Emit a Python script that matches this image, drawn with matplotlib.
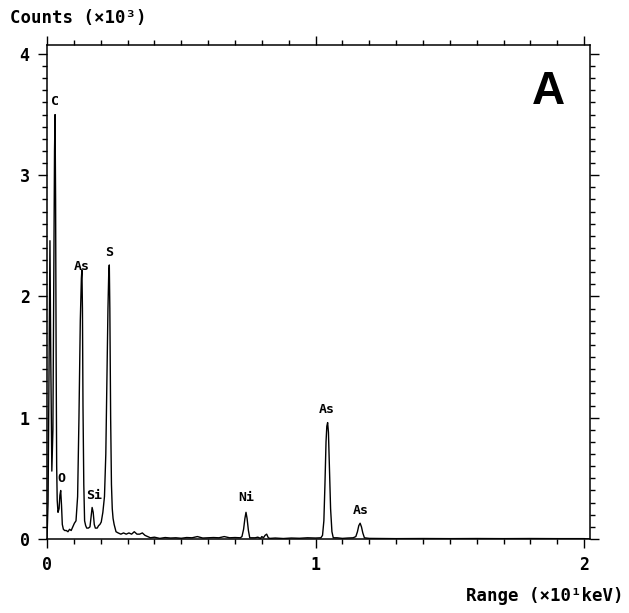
import matplotlib
matplotlib.use("Agg")
import matplotlib.pyplot as plt
from matplotlib.ticker import MultipleLocator

# Spectrum trace: energy (x10 keV) and counts (x10^3)
energy = [0.000, 0.004, 0.008, 0.011, 0.014, 0.018, 0.022, 0.025, 0.028, 0.030,
          0.032, 0.034, 0.036, 0.038, 0.041, 0.045, 0.048, 0.051, 0.054, 0.057,
          0.061, 0.066, 0.072, 0.078, 0.084, 0.090, 0.096, 0.102, 0.108, 0.114,
          0.119, 0.124, 0.128, 0.130, 0.132, 0.134, 0.137, 0.140, 0.144, 0.148,
          0.154, 0.160, 0.164, 0.168, 0.172, 0.176, 0.180, 0.187, 0.192, 0.197,
          0.202, 0.208, 0.214, 0.219, 0.223, 0.227, 0.230, 0.232, 0.234, 0.237,
          0.240, 0.243, 0.246, 0.250, 0.257, 0.265, 0.275, 0.285, 0.295, 0.305,
          0.315, 0.325, 0.335, 0.345, 0.355, 0.365, 0.375, 0.385, 0.40, 0.42,
          0.44, 0.46, 0.48, 0.50, 0.52, 0.54, 0.56, 0.58, 0.60, 0.62,
          0.64, 0.66, 0.68, 0.70, 0.72, 0.726, 0.732, 0.737, 0.741, 0.745,
          0.750, 0.755, 0.765, 0.775, 0.785, 0.795, 0.800, 0.806, 0.812, 0.818,
          0.824, 0.830, 0.85, 0.88, 0.91, 0.94, 0.97, 1.00, 1.02, 1.026,
          1.031, 1.035, 1.039, 1.042, 1.045, 1.048, 1.052, 1.056, 1.061, 1.066,
          1.08, 1.10, 1.12, 1.14, 1.150, 1.156, 1.161, 1.166, 1.171, 1.176,
          1.182, 1.20, 1.30, 1.40, 1.50, 1.60, 1.70, 1.80, 1.90, 2.00, 2.02]
counts = [0.00, 0.30, 1.50, 2.46, 1.50, 0.56, 0.90, 2.00, 3.20, 3.50,
          2.80, 1.50, 0.60, 0.32, 0.22, 0.25, 0.36, 0.40, 0.28, 0.12,
          0.08, 0.07, 0.07, 0.06, 0.08, 0.07, 0.10, 0.13, 0.15, 0.35,
          1.00, 1.80, 2.15, 2.22, 1.90, 1.10, 0.45, 0.15, 0.11, 0.09,
          0.09, 0.10, 0.18, 0.26, 0.22, 0.12, 0.09, 0.09, 0.11, 0.12,
          0.14, 0.22, 0.35, 0.70, 1.30, 1.90, 2.20, 2.26, 1.90, 1.00,
          0.45, 0.25, 0.17, 0.12, 0.06, 0.05, 0.04, 0.05, 0.04, 0.05,
          0.04, 0.06, 0.04, 0.04, 0.05, 0.03, 0.02, 0.01, 0.015, 0.005,
          0.012, 0.008, 0.010, 0.006, 0.012, 0.010, 0.020, 0.008, 0.010, 0.012,
          0.010, 0.020, 0.010, 0.012, 0.010, 0.02, 0.08, 0.17, 0.22, 0.17,
          0.07, 0.01, 0.01, 0.01, 0.015, 0.005, 0.02, 0.01, 0.03, 0.04,
          0.01, 0.005, 0.008, 0.004, 0.008, 0.006, 0.010, 0.008, 0.010, 0.03,
          0.15, 0.45, 0.80, 0.93, 0.96, 0.88, 0.55, 0.25, 0.06, 0.01,
          0.01, 0.005, 0.008, 0.010, 0.02, 0.06, 0.11, 0.13, 0.10, 0.05,
          0.01, 0.005, 0.003, 0.004, 0.003, 0.004, 0.003, 0.004, 0.003, 0.003, 0.0]

# Peak labels
peak_labels = ["C", "As", "S", "O", "Si", "Ni", "As", "As"]
label_x = [0.031, 0.130, 0.231, 0.053, 0.176, 0.741, 1.043, 1.169]
label_y = [3.61, 2.25, 2.36, 0.495, 0.355, 0.346, 1.064, 0.231]

x_ticks = [0, 1, 2]
y_ticks = [0, 1, 2, 3, 4]
y_label = "Counts (×10³)"
x_label = "Range (×10¹keV)"
panel = "A"

W, H = 629, 613
fig = plt.figure(figsize=(W / 100, H / 100), dpi=100)
ax = fig.add_axes([47 / W, 1 - 539 / H, 543 / W, 494 / H])

ax.plot(energy, counts, color="black", lw=1.0)
ax.set_xlim(0, 2.022)
ax.set_ylim(0, 4.074)

ax.xaxis.set_major_locator(MultipleLocator(1))
ax.xaxis.set_minor_locator(MultipleLocator(0.1))
ax.yaxis.set_major_locator(MultipleLocator(1))
ax.yaxis.set_minor_locator(MultipleLocator(0.1))
ax.set_xticks(x_ticks)
ax.set_yticks(y_ticks)

ax.tick_params(which="both", direction="out", top=True, right=True,
               labeltop=False, labelright=False, width=1.0, color="black")
ax.tick_params(which="major", length=6.5, pad=6)
ax.tick_params(which="minor", length=3.8)
for s in ax.spines.values():
    s.set_linewidth(1.1)

mono = "DejaVu Sans Mono"
for lab in ax.get_xticklabels() + ax.get_yticklabels():
    lab.set_fontfamily(mono)
    lab.set_fontweight("bold")
    lab.set_fontsize(12)

for t, x, y in zip(peak_labels, label_x, label_y):
    ax.text(x, y, t, ha="center", va="center", fontfamily=mono,
            fontweight="bold", fontsize=9.5)

fig.text(10 / W, 1 - 18 / H, y_label, ha="left", va="center",
         fontfamily=mono, fontweight="bold", fontsize=12.5)
fig.text(624 / W, 1 - 596 / H, x_label, ha="right", va="center",
         fontfamily=mono, fontweight="bold", fontsize=12.5)
fig.text(548 / W, 1 - 92 / H, panel, ha="center", va="center",
         fontfamily="Liberation Sans", fontweight="bold", fontsize=33)

fig.savefig("out.png", dpi=100, facecolor="white")
